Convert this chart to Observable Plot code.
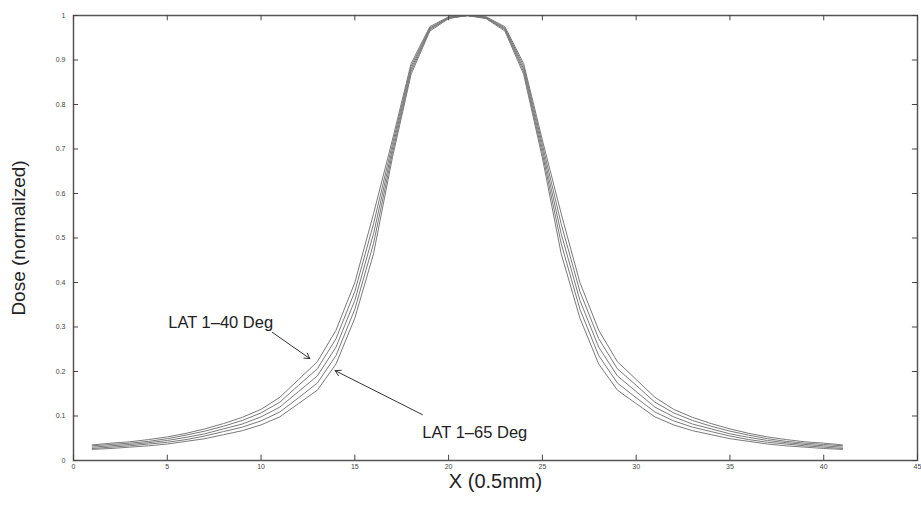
<!DOCTYPE html>
<html><head><meta charset="utf-8">
<script src="https://cdn.jsdelivr.net/npm/d3@7"></script>
<script src="https://cdn.jsdelivr.net/npm/@observablehq/plot@0.6"></script>
<style>body{margin:0;background:#fff;}</style>
</head><body><div id="chart"></div>
<script>
const xPos = [1,2,3,4,5,6,7,8,9,10,11,12,13,14,15,16,17,18,19,20,21,22,23,24,25,26,27,28,29,30,31,32,33,34,35,36,37,38,39,40,41];
const seriesNames = ["LAT 1–40 Deg", "Curve 2", "Curve 3", "Curve 4", "LAT 1–65 Deg"];
const lat40 = [.035,.039,.042,.047,.053,.061,.071,.083,.097,.115,.142,.182,.222,.293,.400,.555,.720,.892,.975,.997,1.000,.997,.975,.892,.720,.555,.400,.293,.222,.182,.142,.115,.097,.083,.071,.061,.053,.047,.042,.039,.035];
const curve2 = [.033,.036,.039,.043,.049,.057,.066,.077,.090,.107,.131,.169,.206,.274,.380,.532,.710,.886,.972,.996,1.000,.996,.972,.886,.710,.532,.380,.274,.206,.169,.131,.107,.090,.077,.066,.057,.049,.043,.039,.036,.033];
const curve3 = [.030,.033,.036,.040,.045,.052,.060,.071,.082,.098,.120,.155,.190,.255,.360,.510,.700,.880,.970,.995,1.000,.995,.970,.880,.700,.510,.360,.255,.190,.155,.120,.098,.082,.071,.060,.052,.045,.040,.036,.033,.030];
const curve4 = [.027,.030,.033,.037,.041,.047,.055,.065,.075,.089,.109,.141,.174,.236,.340,.488,.690,.874,.968,.994,1.000,.994,.968,.874,.690,.488,.340,.236,.174,.141,.109,.089,.075,.065,.055,.047,.041,.037,.033,.030,.027];
const lat65 = [.025,.027,.030,.033,.037,.043,.049,.058,.067,.080,.098,.128,.158,.217,.320,.465,.680,.868,.965,.993,1.000,.993,.965,.868,.680,.465,.320,.217,.158,.128,.098,.080,.067,.058,.049,.043,.037,.033,.030,.027,.025];
const xTicks = [0,5,10,15,20,25,30,35,40,45];
const yTicks = [0,0.1,0.2,0.3,0.4,0.5,0.6,0.7,0.8,0.9,1];
const yTickLabels = ["0","0.1","0.2","0.3","0.4","0.5","0.6","0.7","0.8","0.9","1"];
const annotText = ["LAT 1–40 Deg", "LAT 1–65 Deg"];
const annotX = [5.05, 18.6];
const annotY = [0.31, 0.063];
const arrowFromX = [10.6, 18.6];
const arrowFromY = [0.288, 0.103];
const arrowToX = [12.6, 13.95];
const arrowToY = [0.229, 0.202];

const allSeries = [lat40, curve2, curve3, curve4, lat65];
const data = [];
allSeries.forEach((vals, i) => vals.forEach((v, j) => data.push({series: seriesNames[i], x: xPos[j], y: v})));
const annots = annotText.map((t, i) => ({text: t, x: annotX[i], y: annotY[i]}));
const arrows = arrowFromX.map((_, i) => ({x1: arrowFromX[i], y1: arrowFromY[i], x2: arrowToX[i], y2: arrowToY[i]}));

const chart = Plot.plot({
  width: 921, height: 505,
  marginLeft: 73, marginRight: 4, marginTop: 15, marginBottom: 45,
  style: {fontFamily: "Liberation Sans, Arial, sans-serif", background: "#fff"},
  x: {domain: [0, 45]},
  y: {domain: [0, 1]},
  marks: [
    Plot.line(data, {x: "x", y: "y", z: "series", stroke: "#7a7a7a", strokeWidth: 1}),
    Plot.frame({stroke: "#555", strokeWidth: 1.5}),
    Plot.ruleX(xTicks, {y1: 0, y2: 0.012, stroke: "#444"}),
    Plot.ruleX(xTicks, {y1: 1, y2: 0.988, stroke: "#444"}),
    Plot.ruleY(yTicks, {x1: 0, x2: 0.27, stroke: "#444"}),
    Plot.ruleY(yTicks, {x1: 45, x2: 44.73, stroke: "#444"}),
    Plot.axisX(xTicks, {tickSize: 0, tickPadding: 4, fontSize: 7, fill: "#444", label: null}),
    Plot.axisY(yTicks, {tickSize: 0, tickPadding: 8, fontSize: 7, fill: "#444", label: null, tickFormat: (d, i) => yTickLabels[i]}),
    Plot.text(["X (0.5mm)"], {frameAnchor: "bottom", textAnchor: "middle", dy: 27, fontSize: 20, fill: "#222"}),
    Plot.text(["Dose (normalized)"], {frameAnchor: "left", textAnchor: "middle", dx: -55, rotate: -90, fontSize: 19, fill: "#222"}),
    Plot.arrow(arrows, {x1: "x1", y1: "y1", x2: "x2", y2: "y2", stroke: "#333", strokeWidth: 1, headLength: 9}),
    Plot.text(annots, {x: "x", y: "y", text: "text", textAnchor: "start", fontSize: 16.5, fill: "#222"})
  ]
});
document.getElementById("chart").appendChild(chart);
</script>
</body></html>
